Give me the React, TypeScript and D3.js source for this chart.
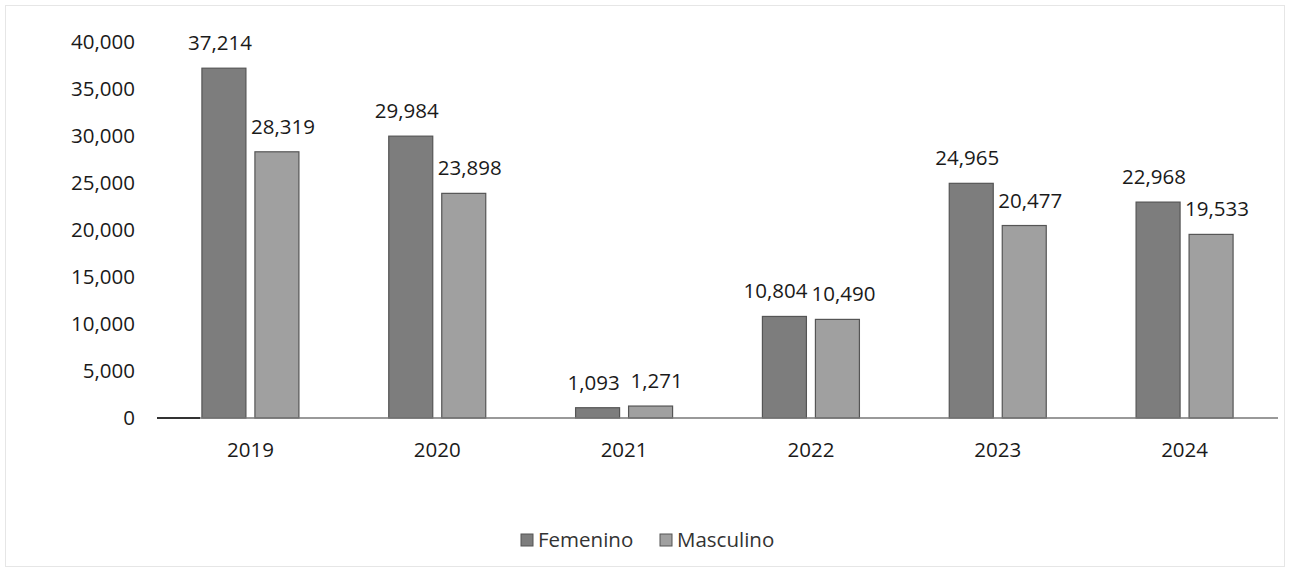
import React from "react";
import * as d3 from "d3";

const years = ["2019", "2020", "2021", "2022", "2023", "2024"];
const femenino = [37214, 29984, 1093, 10804, 24965, 22968];
const masculino = [28319, 23898, 1271, 10490, 20477, 19533];
const seriesNames = ["Femenino", "Masculino"];
const yTicks = [0, 5000, 10000, 15000, 20000, 25000, 30000, 35000, 40000];

const W = 1290, H = 572;
const colors = ["#7d7d7d", "#a0a0a0"];
const font = "'Open Sans', 'Noto Sans', sans-serif";
const fs = 20.5;

export default function App() {
  const left = 157, right = 1278, top = 42, bottom = 418;
  const x = d3.scaleBand().domain(years).range([left, right]);
  const y = d3.scaleLinear().domain([0, 40000]).range([bottom, top]);
  const barW = 44, gap = 9;
  const fmt = d3.format(",");
  const series = [femenino, masculino];
  const labelShift = [-4, 6];
  const estW = (s: string) => s.length * fs * 0.52;
  return (
    <svg width={W} height={H} style={{ position: "absolute", left: 0, top: 0, background: "#fff" }}>
      <rect x={5.5} y={5.5} width={W - 11} height={H - 11} fill="#fff" stroke="#e6e6e6" />
      {yTicks.map((t) => (
        <text key={t} x={135} y={y(t)} dy="0.35em" textAnchor="end" fontFamily={font} fontSize={fs} fill="#1a1a1a">
          {fmt(t)}
        </text>
      ))}
      {years.map((yr, i) => {
        const cx = (x(yr) as number) + x.bandwidth() / 2;
        const bxs = series.map((_, j) => cx - gap / 2 - barW + j * (barW + gap));
        const lcx = series.map((s, j) => bxs[j] + barW / 2 + labelShift[j]);
        const l0 = fmt(series[0][i]), l1 = fmt(series[1][i]);
        const overlap = (lcx[0] + estW(l0) / 2) - (lcx[1] - estW(l1) / 2);
        if (Math.abs(y(series[0][i]) - y(series[1][i])) < 20 && overlap > -4) {
          lcx[0] -= overlap + 4;
        }
        return (
          <g key={yr}>
            {series.map((s, j) => {
              const v = s[i];
              return (
                <g key={j}>
                  <rect x={bxs[j]} y={y(v)} width={barW} height={bottom - y(v)} fill={colors[j]} stroke="#555" strokeWidth={1.2} />
                  <text x={lcx[j]} y={y(v) - 18} textAnchor="middle" fontFamily={font} fontSize={fs} fill="#1a1a1a">
                    {fmt(v)}
                  </text>
                </g>
              );
            })}
            <text x={cx} y={457} textAnchor="middle" fontFamily={font} fontSize={fs} fill="#1a1a1a">{yr}</text>
          </g>
        );
      })}
      <line x1={left} x2={right} y1={bottom} y2={bottom} stroke="#777" strokeWidth={1.5} />
      <line x1={left} x2={200} y1={bottom} y2={bottom} stroke="#333" strokeWidth={2} />
      <g>
        {seriesNames.map((n, j) => {
          const lx = j === 0 ? 521 : 660;
          return (
            <g key={n}>
              <rect x={lx} y={534} width={12} height={12} fill={colors[j]} stroke="#555" />
              <text x={lx + 17} y={547} fontFamily={font} fontSize={fs} fill="#333">{n}</text>
            </g>
          );
        })}
      </g>
    </svg>
  );
}
